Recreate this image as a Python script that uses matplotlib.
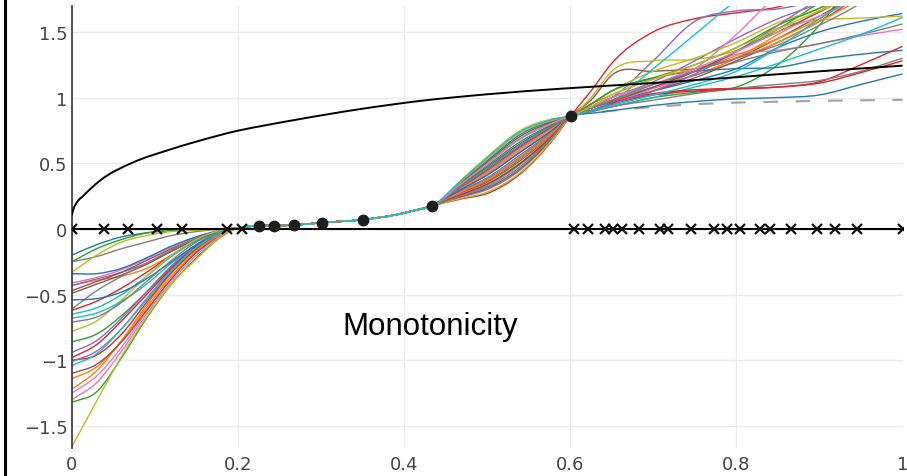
import matplotlib
matplotlib.use("Agg")
import matplotlib.pyplot as plt
from matplotlib.lines import Line2D
from matplotlib.path import Path
from matplotlib.patches import PathPatch

# ---- data -------------------------------------------------------------
# observed points (black dots)
DOT_X = [0.2253, 0.2434, 0.2675, 0.3008, 0.3502, 0.4341, 0.6008]
DOT_Y = [0.025, 0.025, 0.030, 0.048, 0.071, 0.177, 0.862]

# derivative-constraint locations (crosses on the zero line)
MARK_X = [0.0, 0.0389, 0.0678, 0.1028, 0.1322, 0.1864, 0.2045,
          0.6048, 0.622, 0.642, 0.652, 0.662, 0.683, 0.708, 0.718, 0.746,
          0.773, 0.789, 0.805, 0.829, 0.840, 0.866, 0.897, 0.919, 0.945, 1.0]

# reference function (black curve)
REF_X = [0.0, 0.002, 0.006, 0.014, 0.034, 0.074, 0.114, 0.154, 0.2, 0.235,
         0.275, 0.35, 0.42, 0.5, 0.59, 0.71, 0.8, 0.9, 1.0]
REF_Y = [0.101, 0.15, 0.20, 0.253, 0.368, 0.507, 0.596, 0.672, 0.748, 0.791,
         0.837, 0.915, 0.975, 1.025, 1.068, 1.115, 1.155, 1.20, 1.243]

# dashed curve on the right
DASH_X = [0.6, 0.65, 0.7, 0.75, 0.8, 0.9, 1.0]
DASH_Y = [0.865, 0.90, 0.93, 0.95, 0.962, 0.975, 0.983]

# posterior samples: left part, shared bridge, fan, right part
LEFT_X = [0.0, 0.03, 0.06, 0.09, 0.12, 0.15, 0.18]
LEFT_Y = [
    [-0.20, -0.12, -0.06, -0.03, -0.01, 0.0, 0.0],
    [-0.43, -0.39, -0.36, -0.30, -0.20, -0.09, -0.02],
    [-0.25, -0.15, -0.08, -0.03, -0.01, 0.0, 0.0],
    [-0.62, -0.55, -0.45, -0.33, -0.20, -0.09, -0.02],
    [-0.43, -0.38, -0.33, -0.26, -0.17, -0.08, -0.02],
    [-0.47, -0.40, -0.33, -0.24, -0.15, -0.07, -0.01],
    [-0.41, -0.37, -0.31, -0.23, -0.14, -0.06, -0.01],
    [-0.25, -0.21, -0.15, -0.10, -0.05, -0.02, 0.0],
    [-0.33, -0.20, -0.10, -0.05, -0.02, -0.01, 0.0],
    [-0.65, -0.60, -0.50, -0.36, -0.21, -0.09, -0.02],
    [-0.34, -0.34, -0.30, -0.22, -0.13, -0.06, -0.01],
    [-1.14, -1.05, -0.85, -0.60, -0.36, -0.17, -0.04],
    [-0.86, -0.80, -0.66, -0.48, -0.29, -0.13, -0.03],
    [-0.98, -0.88, -0.70, -0.50, -0.30, -0.13, -0.03],
    [-0.94, -0.85, -0.68, -0.48, -0.28, -0.12, -0.02],
    [-0.49, -0.42, -0.35, -0.27, -0.17, -0.08, -0.02],
    [-1.25, -1.12, -0.90, -0.63, -0.38, -0.18, -0.05],
    [-0.61, -0.47, -0.36, -0.26, -0.16, -0.07, -0.01],
    [-0.78, -0.70, -0.54, -0.36, -0.20, -0.08, -0.01],
    [-0.68, -0.64, -0.55, -0.42, -0.26, -0.12, -0.02],
    [-0.54, -0.53, -0.48, -0.38, -0.25, -0.12, -0.03],
    [-1.22, -1.08, -0.85, -0.58, -0.34, -0.16, -0.04],
    [-1.32, -1.24, -0.98, -0.68, -0.42, -0.22, -0.06],
    [-1.00, -0.96, -0.80, -0.56, -0.33, -0.15, -0.03],
    [-1.01, -0.93, -0.76, -0.53, -0.31, -0.14, -0.03],
    [-1.10, -1.03, -0.86, -0.62, -0.38, -0.18, -0.05],
    [-1.30, -1.17, -0.93, -0.65, -0.40, -0.20, -0.05],
    [-0.71, -0.67, -0.56, -0.40, -0.24, -0.10, -0.02],
    [-1.66, -1.31, -0.97, -0.67, -0.42, -0.23, -0.06],
    [-1.04, -0.95, -0.76, -0.54, -0.32, -0.14, -0.03],
]

BRIDGE_X = [0.2, 0.39, 0.41]
BRIDGE_Y = [0.008, 0.108, 0.137]

FAN_X = [0.47, 0.5, 0.54, 0.58]
FAN_Y = [
    [0.365, 0.52, 0.72, 0.825],
    [0.35, 0.495, 0.685, 0.81],
    [0.305, 0.41, 0.585, 0.76],
    [0.23, 0.27, 0.42, 0.685],
    [0.245, 0.30, 0.45, 0.70],
    [0.25, 0.31, 0.46, 0.705],
    [0.31, 0.42, 0.60, 0.77],
    [0.32, 0.44, 0.62, 0.78],
    [0.38, 0.55, 0.75, 0.84],
    [0.355, 0.50, 0.69, 0.815],
    [0.335, 0.47, 0.65, 0.795],
    [0.315, 0.43, 0.61, 0.775],
    [0.275, 0.355, 0.52, 0.73],
    [0.28, 0.365, 0.535, 0.74],
    [0.29, 0.38, 0.55, 0.745],
    [0.325, 0.45, 0.63, 0.785],
    [0.27, 0.345, 0.505, 0.725],
    [0.295, 0.39, 0.565, 0.75],
    [0.235, 0.28, 0.43, 0.69],
    [0.26, 0.33, 0.49, 0.715],
    [0.305, 0.41, 0.585, 0.76],
    [0.285, 0.37, 0.54, 0.74],
    [0.34, 0.48, 0.665, 0.80],
    [0.265, 0.34, 0.50, 0.72],
    [0.33, 0.46, 0.64, 0.79],
    [0.36, 0.51, 0.705, 0.82],
    [0.35, 0.495, 0.685, 0.81],
    [0.255, 0.32, 0.475, 0.71],
    [0.37, 0.53, 0.73, 0.83],
    [0.375, 0.54, 0.74, 0.835],
]

RIGHT_X = [0.625, 0.65, 0.7, 0.75, 0.8, 0.85, 0.9, 0.95, 1.0]
RIGHT_Y = [
    [0.92, 0.97, 1.05, 1.13, 1.22, 1.38, 1.50, 1.58, 1.64],
    [0.90, 0.96, 1.07, 1.17, 1.30, 1.48, 1.66, 1.85, 2.0],
    [0.90, 0.93, 1.00, 1.04, 1.08, 1.25, 1.55, 1.95, 2.1],
    [1.05, 1.26, 1.50, 1.60, 1.645, 1.69, 1.80, 1.90, 2.0],
    [0.93, 1.00, 1.28, 1.58, 1.66, 1.675, 1.75, 1.90, 2.0],
    [0.98, 1.17, 1.20, 1.22, 1.30, 1.45, 1.62, 1.80, 2.0],
    [0.90, 0.95, 1.05, 1.20, 1.33, 1.36, 1.41, 1.47, 1.52],
    [0.92, 0.98, 1.08, 1.17, 1.27, 1.35, 1.41, 1.48, 1.56],
    [1.00, 1.20, 1.28, 1.29, 1.36, 1.53, 1.59, 1.605, 1.62],
    [0.90, 0.93, 1.00, 1.08, 1.16, 1.26, 1.37, 1.48, 1.61],
    [0.95, 1.05, 1.15, 1.20, 1.22, 1.23, 1.29, 1.33, 1.36],
    [0.92, 0.98, 1.10, 1.20, 1.32, 1.45, 1.60, 1.80, 2.0],
    [0.93, 1.00, 1.10, 1.20, 1.35, 1.52, 1.72, 1.90, 2.0],
    [0.90, 0.96, 1.03, 1.06, 1.07, 1.08, 1.12, 1.25, 1.39],
    [0.93, 1.00, 1.12, 1.28, 1.45, 1.60, 1.72, 1.90, 2.0],
    [0.90, 0.95, 1.05, 1.15, 1.28, 1.42, 1.58, 1.78, 2.0],
    [0.92, 0.97, 1.07, 1.22, 1.48, 1.78, 1.95, 2.1, 2.2],
    [0.89, 0.93, 0.98, 1.03, 1.07, 1.10, 1.13, 1.20, 1.30],
    [0.95, 1.05, 1.20, 1.30, 1.42, 1.57, 1.68, 1.85, 2.0],
    [0.90, 0.97, 1.22, 1.48, 1.74, 1.95, 2.1, 2.2, 2.3],
    [0.88, 0.90, 0.94, 0.97, 0.99, 1.00, 1.02, 1.10, 1.18],
    [0.95, 1.02, 1.14, 1.22, 1.30, 1.42, 1.58, 1.75, 1.95],
    [0.95, 1.05, 1.15, 1.25, 1.38, 1.55, 1.68, 1.85, 2.0],
    [0.90, 0.95, 1.02, 1.05, 1.065, 1.08, 1.11, 1.19, 1.28],
    [0.90, 0.95, 1.05, 1.18, 1.35, 1.55, 1.75, 1.90, 2.0],
    [0.92, 0.97, 1.08, 1.20, 1.35, 1.50, 1.65, 1.82, 2.0],
    [0.93, 1.00, 1.10, 1.22, 1.35, 1.50, 1.62, 1.76, 1.95],
    [0.92, 0.98, 1.10, 1.20, 1.30, 1.40, 1.55, 1.72, 1.95],
    [0.93, 1.02, 1.14, 1.25, 1.38, 1.52, 1.66, 1.78, 1.95],
    [0.90, 0.94, 1.02, 1.10, 1.20, 1.38, 1.60, 1.80, 2.0],
]

X_TICKS = [0, 0.2, 0.4, 0.6, 0.8, 1]
X_LABELS = ["0", "0.2", "0.4", "0.6", "0.8", "1"]
Y_TICKS = [-1.5, -1, -0.5, 0, 0.5, 1, 1.5]
Y_LABELS = ["\u22121.5", "\u22121", "\u22120.5", "0", "0.5", "1", "1.5"]

TITLE = "Monotonicity"


def spline_path(xs, ys):
    """Smooth cubic (Hermite/Bezier) path through the given points."""
    n = len(xs)
    slopes = []
    for i in range(n):
        if i == 0:
            m = (ys[1] - ys[0]) / (xs[1] - xs[0])
        elif i == n - 1:
            m = (ys[-1] - ys[-2]) / (xs[-1] - xs[-2])
        else:
            h0 = xs[i] - xs[i - 1]
            h1 = xs[i + 1] - xs[i]
            d0 = (ys[i] - ys[i - 1]) / h0
            d1 = (ys[i + 1] - ys[i]) / h1
            m = (d0 * h1 + d1 * h0) / (h0 + h1)
        slopes.append(m)
    verts = [(xs[0], ys[0])]
    codes = [Path.MOVETO]
    for i in range(n - 1):
        h = xs[i + 1] - xs[i]
        verts += [(xs[i] + h / 3, ys[i] + slopes[i] * h / 3),
                  (xs[i + 1] - h / 3, ys[i + 1] - slopes[i + 1] * h / 3),
                  (xs[i + 1], ys[i + 1])]
        codes += [Path.CURVE4] * 3
    return Path(verts, codes)


def add_curve(ax, xs, ys, **kw):
    ax.add_patch(PathPatch(spline_path(xs, ys), fill=False, **kw))


# ---- figure ----------------------------------------------------------
W, H, DPI = 907, 477, 100
fig = plt.figure(figsize=(W / DPI, H / DPI), dpi=DPI)
ax = fig.add_axes([71.7 / W, (H - 449.4) / H, 830.8 / W, (449.4 - 6.6) / H])
ax.set_xlim(0, 1)
ax.set_ylim(-1.67, 1.70)

palette = plt.rcParams["axes.prop_cycle"].by_key()["color"]

# shared section between the left tail and the fan
bridge = sorted(list(zip(BRIDGE_X, BRIDGE_Y)) + list(zip(DOT_X[:-1], DOT_Y[:-1])))
bridge_x = [p[0] for p in bridge]
bridge_y = [p[1] for p in bridge]

for i in range(len(LEFT_Y)):
    xs = LEFT_X + bridge_x + FAN_X + [DOT_X[-1]] + RIGHT_X
    ys = LEFT_Y[i] + bridge_y + FAN_Y[i] + [DOT_Y[-1]] + RIGHT_Y[i]
    add_curve(ax, xs, ys, edgecolor=palette[i % len(palette)], lw=1.0, zorder=2)

ax.plot(DASH_X, DASH_Y, color="#a0a0a0", lw=1.5, dashes=(7, 8.5), zorder=1.5)
add_curve(ax, REF_X, REF_Y, edgecolor="black", lw=1.4, zorder=4)

# zero line with constraint crosses
ax.plot([0, 1], [0, 0], color="black", lw=1.5, zorder=4)
ax.plot(MARK_X, [0] * len(MARK_X), linestyle="none", marker="x",
        ms=7.5, mew=1.6, color="#111111", zorder=5)

ax.plot(DOT_X, DOT_Y, linestyle="none", marker="o", ms=7.5,
        color="#1e1e1e", zorder=6)

ax.text(0.431, -0.74, TITLE, ha="center", va="center",
        fontsize=22.5, family=["Liberation Sans", "DejaVu Sans"], color="black")

# axes styling
ax.set_xticks(X_TICKS)
ax.set_xticklabels(X_LABELS)
ax.set_yticks(Y_TICKS)
ax.set_yticklabels(Y_LABELS)
ax.tick_params(length=0, labelsize=13, labelcolor="#444444")
ax.tick_params(axis="x", pad=4.5)
ax.tick_params(axis="y", pad=3)
ax.grid(True, color="#ebebeb", lw=1.0, zorder=0)
ax.set_axisbelow(True)
for side in ("top", "right", "bottom"):
    ax.spines[side].set_visible(False)
ax.spines["left"].set_color("#444444")
ax.spines["left"].set_linewidth(1.3)

# frame edge on the left side of the canvas
fig.add_artist(Line2D([5 / W, 5 / W], [0, 1], transform=fig.transFigure,
                      color="black", lw=2.2))

fig.savefig("out.png", dpi=DPI)
